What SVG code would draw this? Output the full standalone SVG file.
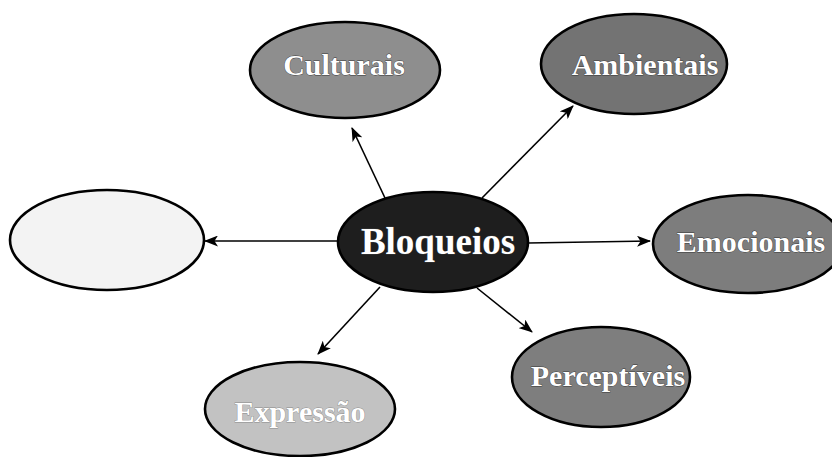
<svg xmlns="http://www.w3.org/2000/svg" width="832" height="457" viewBox="0 0 832 457">
  <style>
    .node { stroke: #000; stroke-width: 2.6; }
    .label { font-family: "Liberation Serif", "Times New Roman", serif; font-weight: bold; font-size: 30px; fill: #fff; text-anchor: middle; stroke: #3a3a3a; stroke-width: 0.8; paint-order: stroke; }
    .link { stroke: #000; stroke-width: 1.6; fill: none; marker-end: url(#head); }
  </style>
  <defs>
    <marker id="head" viewBox="0 0 14 11" refX="13" refY="5.5" markerWidth="14" markerHeight="11" markerUnits="userSpaceOnUse" orient="auto">
      <path d="M0,0 L14,5.5 L0,11 L3.5,5.5 Z" fill="#000"/>
    </marker>
  </defs>
  <rect width="832" height="457" fill="#fff"/>

  <!-- arrows radiating from the central node -->
  <g id="connectors">
    <line class="link" x1="385" y1="198" x2="352" y2="128"/>
    <line class="link" x1="482" y1="198" x2="573" y2="106"/>
    <line class="link" x1="338" y1="241" x2="205" y2="241"/>
    <line class="link" x1="528" y1="243" x2="650" y2="241"/>
    <line class="link" x1="477" y1="288" x2="532" y2="332"/>
    <line class="link" x1="380" y1="287" x2="318" y2="354"/>
  </g>

  <g id="culturais">
    <ellipse class="node" cx="345" cy="70" rx="95" ry="48" fill="#8e8e8e"/>
    <text class="label" x="344" y="75">Culturais</text>
  </g>

  <g id="ambientais">
    <ellipse class="node" cx="634" cy="64" rx="93" ry="50" fill="#737373"/>
    <text class="label" x="645" y="75">Ambientais</text>
  </g>

  <g id="vazio">
    <ellipse class="node" cx="107" cy="240" rx="97" ry="50" fill="#f3f3f3"/>
  </g>

  <g id="bloqueios">
    <ellipse class="node" cx="433" cy="242" rx="95" ry="50" fill="#1e1e1e"/>
    <text class="label" x="438" y="254" style="font-size:37px">Bloqueios</text>
  </g>

  <g id="emocionais">
    <ellipse class="node" cx="748" cy="244" rx="95" ry="49" fill="#7d7d7d"/>
    <text class="label" x="751" y="252">Emocionais</text>
  </g>

  <g id="perceptiveis">
    <ellipse class="node" cx="601" cy="377" rx="89" ry="50" fill="#7e7e7e"/>
    <text class="label" x="608" y="386">Perceptíveis</text>
  </g>

  <g id="expressao">
    <ellipse class="node" cx="300" cy="409" rx="95" ry="47" fill="#c2c2c2"/>
    <text class="label" x="300" y="422" style="stroke:#8a8a8a">Expressão</text>
  </g>
</svg>
